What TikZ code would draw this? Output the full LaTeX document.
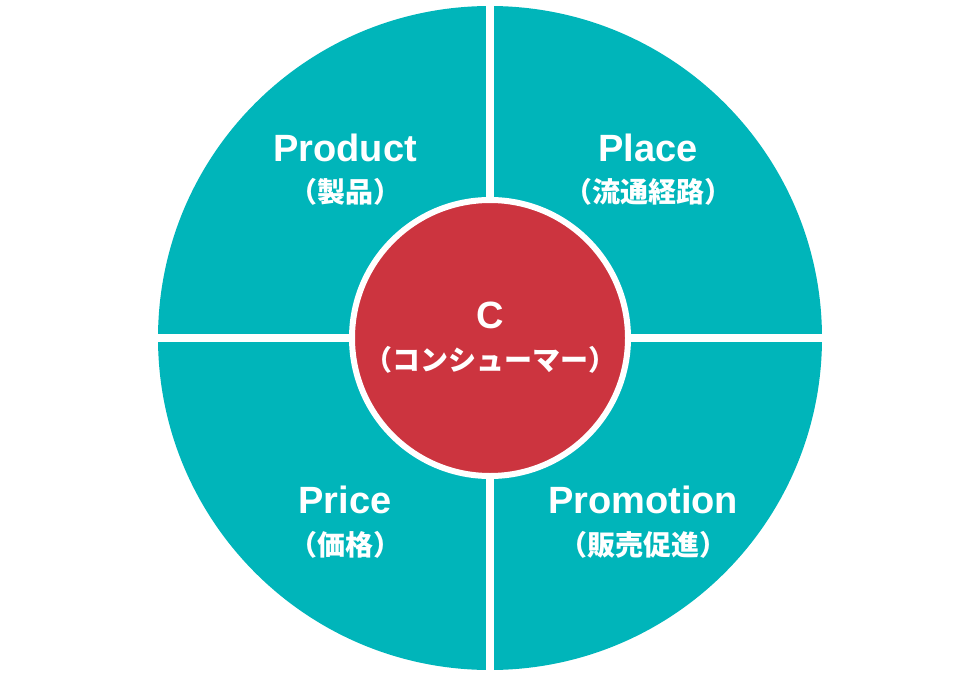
\documentclass[tikz,border=0pt]{standalone}
\usepackage{fontspec}
\setmainfont{Liberation Sans}
\newfontfamily\jp{Noto Sans CJK JP}
\definecolor{teal}{HTML}{00B5BA}
\definecolor{redc}{HTML}{CC343F}
\begin{document}
\begin{tikzpicture}[x=1pt,y=-1pt,
  en/.style={text=white,font=\fontsize{38}{40}\selectfont\bfseries},
  ja/.style={text=white,font=\jp\fontsize{28}{30}\selectfont\bfseries}]
\useasboundingbox (0,0) rectangle (980,680);
\node[circle,fill=teal,minimum size=664pt,inner sep=0] (big) at (490,338) {};
\draw[white,line width=8pt] (490,0) -- (490,680) (150,338) -- (830,338);
\node[circle,fill=redc,draw=white,line width=6pt,minimum size=276pt,inner sep=0] (c) at (490,338) {};
\node[en] (p1) at (345,148) {Product};
\node[ja] (p1j) at (345,192) {（製品）};
\node[en] (p2) at (648,148) {Place};
\node[ja] (p2j) at (648,192) {（流通経路）};
\node[en] (p3) at (345,500) {Price};
\node[ja] (p3j) at (345,545) {（価格）};
\node[en] (p4) at (643,500) {Promotion};
\node[ja] (p4j) at (643,545) {（販売促進）};
\node[en] (cc) at (490,315) {C};
\node[ja] (ccj) at (490,360) {（コンシューマー）};
\end{tikzpicture}
\end{document}
